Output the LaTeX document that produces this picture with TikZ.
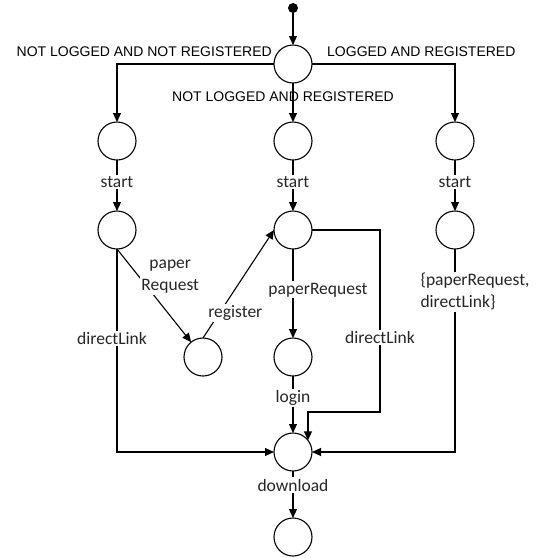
\documentclass[tikz,border=0pt]{standalone}
\usepackage{fontspec}
\setmainfont{Carlito}
\newfontfamily\capsfont{Liberation Sans}
\usetikzlibrary{arrows.meta,calc}
\begin{document}
\begin{tikzpicture}[x=1pt,y=-1pt,
  st/.style={circle,draw,line width=1.1pt,minimum size=38pt,inner sep=0pt,outer sep=0pt},
  arr/.style={line width=1.1pt,-{Triangle[length=9pt,width=8pt]}},
  ln/.style={line width=1.1pt},
  lab/.style={fill=white,inner sep=1.5pt,text=black!85,font=\fontsize{17.5}{22}\selectfont},
  caps/.style={inner sep=0pt,font=\capsfont\fontsize{14}{16}\selectfont}]
\useasboundingbox (0,0) rectangle (542,558);
% states
\node[circle,fill=black,minimum size=10pt,inner sep=0pt] (init) at (293,8) {};
\node[st] (ch) at (293,64) {};
\node[st] (a1) at (117,141) {};
\node[st] (b1) at (293,141) {};
\node[st] (c1) at (455,141) {};
\node[st] (a2) at (117,230) {};
\node[st] (b2) at (293,230) {};
\node[st] (c2) at (455,230) {};
\node[st] (sm) at (203,357) {};
\node[st] (b3) at (293,357) {};
\node[st] (dl) at (293,452) {};
\node[st] (fin) at (293,537) {};
% helper coordinates
\coordinate (cA) at (117,452);
\coordinate (cC) at (455,452);
\coordinate (m1) at (380,230);
\coordinate (m2) at (380,412);
\coordinate (m3) at (dl.38 |- m2);
% top choice
\draw[arr] (init) -- (ch);
\draw[arr] (ch.west) -| (a1.north);
\draw[arr] (ch.east) -| (c1.north);
\draw[arr] (ch) -- (b1);
\node[caps,anchor=east] (l1) at (272,52) {NOT LOGGED AND NOT REGISTERED};
\node[caps,anchor=west] (l2) at (327,52) {LOGGED AND REGISTERED};
\node[caps] (l3) at (283,97) {NOT LOGGED AND REGISTERED};
% start
\draw[arr] (a1) -- node[lab,pos=0.43] {start} (a2);
\draw[arr] (b1) -- node[lab,pos=0.43] {start} (b2);
\draw[arr] (c1) -- node[lab,pos=0.43] {start} (c2);
% left column
\draw[arr] (a2.south) -- node[lab,pos=0.3,xshift=31pt,align=center] {paper\\Request} (sm);
\draw[arr] (sm.north) -- node[lab,pos=0.23,xshift=16pt] {register} (b2.west);
\draw[arr] (a2) -- node[lab,pos=0.44,xshift=-5pt] {directLink} (cA) -- (dl.west);
% middle column
\draw[arr] (b2) -- node[lab,pos=0.46,xshift=25pt] {paperRequest} (b3);
\draw[arr] (b2.east) -- (m1) -- node[lab,pos=0.59] {directLink} (m2) -- (m3) -- (dl.38);
\draw[arr] (b3) -- node[lab,pos=0.38] {login} (dl);
\draw[arr] (dl) -- node[lab,pos=0.3] {download} (fin);
% right column
\draw[arr] (c2) -- node[lab,pos=0.21,xshift=20pt,align=left] {\{paperRequest,\\directLink\}} (cC) -- (dl.east);
\end{tikzpicture}
\end{document}
